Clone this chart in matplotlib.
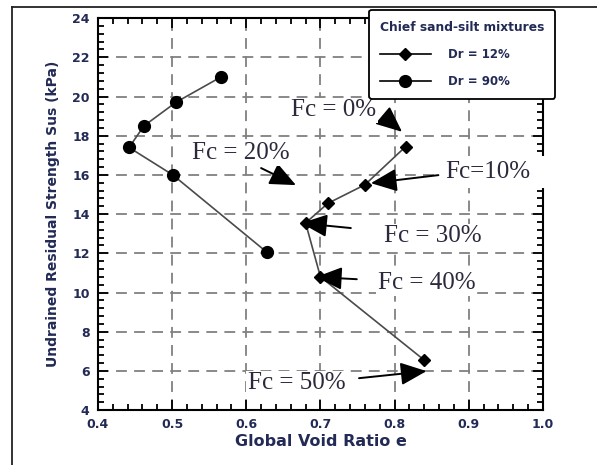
import matplotlib.pyplot as plt
from matplotlib.lines import Line2D
from matplotlib.patches import Rectangle
from matplotlib.ticker import MultipleLocator

# Dr = 12% series (diamonds)
e_dr12 = [0.815, 0.760, 0.710, 0.680, 0.700, 0.840]
sus_dr12 = [17.45, 15.5, 14.55, 13.55, 10.8, 6.55]

# Dr = 90% series (circles)
e_dr90 = [0.566, 0.505, 0.462, 0.442, 0.501, 0.628]
sus_dr90 = [21.0, 19.7, 18.5, 17.4, 16.0, 12.05]

# fines content callouts: label, text position, arrow tail, arrow tip
fc_labels = ["Fc = 0%", "Fc = 20%", "Fc=10%", "Fc = 30%", "Fc = 40%", "Fc = 50%"]
fc_text_xy = [(0.718, 19.3), (0.593, 17.1), (0.925, 16.14), (0.852, 12.88), (0.843, 10.48), (0.668, 5.38)]
fc_tail_xy = [(0.785, 19.0), (0.620, 16.35), (0.859, 15.99), (0.741, 13.29), (0.749, 10.68), (0.752, 5.63)]
fc_tip_xy = [(0.810, 18.2), (0.667, 15.48), (0.768, 15.58), (0.674, 13.54), (0.694, 10.79), (0.843, 5.99)]

navy = "#222a55"
ink = "#2a2a3c"

fig = plt.figure(figsize=(5.97, 4.65), dpi=100)
ax = fig.add_axes([0.164, 0.118, 0.7455, 0.843])

ax.plot(e_dr12, sus_dr12, color="#4a4a4a", lw=1.2, marker="D", ms=6,
        mfc="black", mec="black", label="Dr = 12%", zorder=3)
ax.plot(e_dr90, sus_dr90, color="#4a4a4a", lw=1.2, marker="o", ms=8.5,
        mfc="black", mec="black", label="Dr = 90%", zorder=3)

ax.set_xlim(0.4, 1.0)
ax.set_ylim(4, 24)
ax.xaxis.set_major_locator(MultipleLocator(0.1))
ax.xaxis.set_minor_locator(MultipleLocator(0.02))
ax.yaxis.set_major_locator(MultipleLocator(2))
ax.yaxis.set_minor_locator(MultipleLocator(0.4))
ax.set_xticklabels([f"{v:.1f}" for v in ax.get_xticks()])

ax.grid(True, which="major", color="#808080", lw=1.3, linestyle=(0, (6, 4)))
ax.tick_params(which="both", direction="in", top=True, right=True, width=1.3,
               colors="black", labelcolor=navy)
ax.tick_params(which="major", length=7, labelsize=9, pad=6)
ax.tick_params(which="minor", length=4)
for lab in ax.get_xticklabels() + ax.get_yticklabels():
    lab.set_fontweight("bold")
for sp in ax.spines.values():
    sp.set_linewidth(1.5)

ax.set_xlabel("Global Void Ratio e", fontsize=11.5, fontweight="bold", color=navy, labelpad=2)
ax.set_ylabel("Undrained Residual Strength Sus (kPa)", fontsize=10, fontweight="bold",
              color=navy, labelpad=9)

# white block behind the Fc=10% label, it runs over the right spine
ax.add_patch(Rectangle((0.855, 15.35), 0.16, 1.6, facecolor="white", edgecolor="none",
                       zorder=4, clip_on=False))

# callouts with arrows
for lab, txy, tail, tip in zip(fc_labels, fc_text_xy, fc_tail_xy, fc_tip_xy):
    ax.annotate("", xy=tip, xytext=tail,
                arrowprops=dict(arrowstyle="-|>,head_length=0.8,head_width=0.35",
                                mutation_scale=20, color="black", lw=1.4,
                                shrinkA=0, shrinkB=0),
                zorder=5, annotation_clip=False)
    ax.text(txy[0], txy[1], lab, family="Liberation Serif", fontsize=18, color=ink,
            ha="center", va="center", zorder=6, clip_on=False,
            bbox=dict(facecolor="white", edgecolor="none", pad=1.0))

leg = ax.legend(loc="upper right", bbox_to_anchor=(555 / 597, 1 - 10 / 465),
                bbox_transform=fig.transFigure, title="Chief sand-silt mixtures",
                fontsize=8.5, title_fontproperties={"size": 8.8, "weight": "bold"},
                handlelength=4.3, handletextpad=1.45, labelspacing=1.2,
                borderpad=0.9, borderaxespad=0, frameon=True, fancybox=True,
                framealpha=1, edgecolor="black", alignment="left")
leg.get_frame().set_linewidth(1.3)
leg.get_title().set_color(navy)
for t in leg.get_texts():
    t.set_fontweight("bold")
    t.set_color(navy)
for h in leg.legend_handles:
    h.set_color("black")
leg.set_zorder(10)

# outer frame lines at top and left
fig.add_artist(Line2D([12 / 597, 1], [1 - 7 / 465, 1 - 7 / 465], color="#222222", lw=1.3))
fig.add_artist(Line2D([12 / 597, 12 / 597], [0, 1 - 7 / 465], color="#222222", lw=1.3))

fig.savefig("out.png", dpi=100)
